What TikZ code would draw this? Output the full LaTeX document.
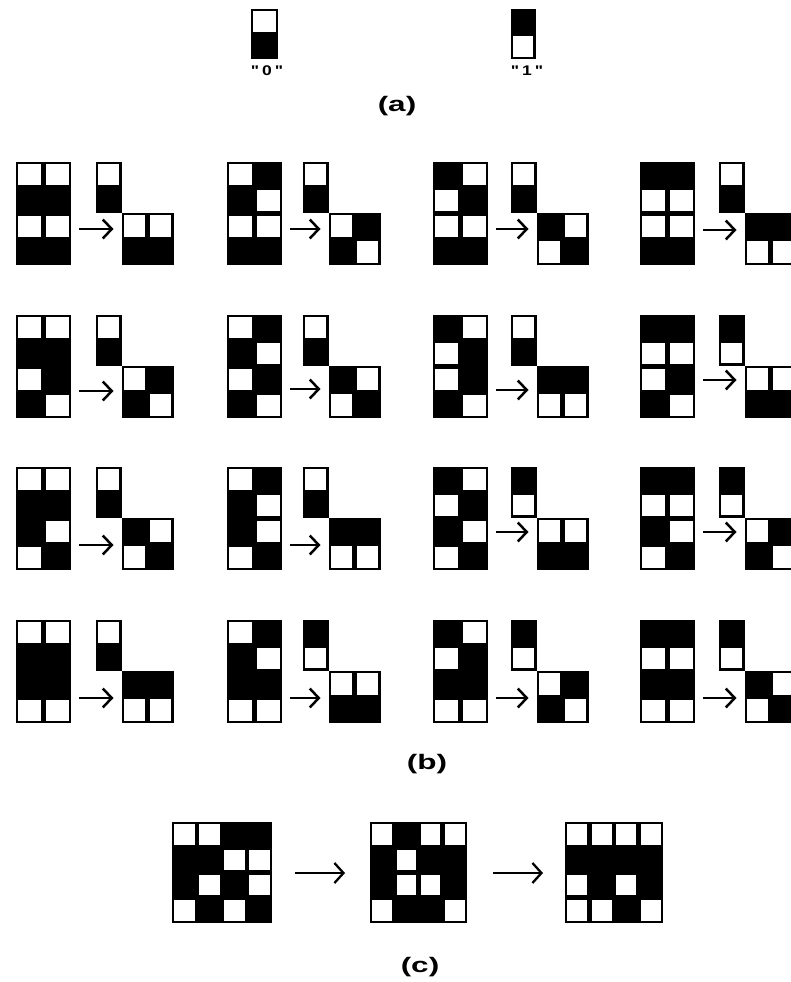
\documentclass[tikz,border=0pt]{standalone}
\usepackage{fontspec}
\usepackage{graphicx}
\setmainfont{Liberation Sans}
\newfontfamily\qfont{Liberation Sans}
\usetikzlibrary{arrows.meta}
\tikzset{
  arr/.style={line width=2.5bp, -{Straight Barb[length=9bp,width=19bp]}},
  arrc/.style={line width=2.3bp, -{Straight Barb[length=9bp,width=20bp]}},
  lab/.style={font=\fontsize{21bp}{21bp}\selectfont\bfseries, inner sep=0},
  qlab/.style={font=\fontsize{14bp}{14bp}\selectfont\qfont\bfseries, inner sep=0},
}
% block of cells: x y cellw cellh ncols nrows {white cells col/row}
\newcommand{\blk}[7]{%
  \fill[black] (#1,#2) rectangle ++({#5*#3},{#6*#4});
  \foreach \cc/\rr in {#7} {
    \fill[white] ({#1+\cc*#3+2.4},{#2+\rr*#4+2.4}) rectangle ({#1+(\cc+1)*#3-2.4},{#2+(\rr+1)*#4-2.4});
  }%
}
% rule: name bx by dx arrowy inputwhites dominowhite pairwhites
\newcommand{\rul}[8]{%
  \blk{#2}{#3}{27.5}{25.75}{2}{4}{#6}
  \blk{#4}{#3}{25.5}{25.25}{1}{2}{#7}
  \blk{#4+25.5}{#3+51}{26}{26}{2}{2}{#8}
  \coordinate (#1-s) at ({#2+63},#5);
  \coordinate (#1-e) at ({#4+25.5-8},#5);
  \draw[arr] (#1-s) -- (#1-e);
}
\begin{document}
\begin{tikzpicture}[x=1bp,y=-1bp]
\path[use as bounding box] (0,0) rectangle (791,982);
\clip (0,0) rectangle (791,982);
\fill[white] (0,0) rectangle (791,982);
% (a)
\blk{251}{9}{27}{25}{1}{2}{0/0}
\blk{511}{9}{24.5}{25}{1}{2}{0/1}
\node[qlab] (q0) at (267,71) {\scalebox{1.25}[1]{"\,0\,"}};
\node[qlab] (q1) at (527,71) {\scalebox{1.25}[1]{"\,1\,"}};
\node[lab] (la) at (397,106) {\scalebox{1.5}[1]{(a)}};
% (b) row 1
\rul{r11}{16}{162}{96}{229}{0/0,1/0,0/2,1/2}{0/0}{0/0,1/0}
\rul{r12}{227}{162}{303}{229}{0/0,1/1,0/2,1/2}{0/0}{0/0,1/1}
\rul{r13}{433}{162}{511}{229}{1/0,0/1,0/2,1/2}{0/0}{1/0,0/1}
\rul{r14}{640}{162}{719}{230}{0/1,1/1,0/2,1/2}{0/0}{0/1,1/1}
% row 2
\rul{r21}{16}{315}{96}{391}{0/0,1/0,0/2,1/3}{0/0}{0/0,1/1}
\rul{r22}{227}{315}{303}{389}{0/0,1/1,0/2,1/3}{0/0}{1/0,0/1}
\rul{r23}{433}{315}{511}{390}{1/0,0/1,0/2,1/3}{0/0}{0/1,1/1}
\rul{r24}{640}{315}{719}{380}{0/1,1/1,0/2,1/3}{0/1}{0/0,1/0}
% row 3
\rul{r31}{16}{467}{96}{545}{0/0,1/0,1/2,0/3}{0/0}{1/0,0/1}
\rul{r32}{227}{467}{303}{545}{0/0,1/1,1/2,0/3}{0/0}{0/1,1/1}
\rul{r33}{433}{467}{511}{532}{1/0,0/1,1/2,0/3}{0/1}{0/0,1/0}
\rul{r34}{640}{467}{719}{532}{0/1,1/1,1/2,0/3}{0/1}{0/0,1/1}
% row 4
\rul{r41}{16}{620}{96}{698}{0/0,1/0,0/3,1/3}{0/0}{0/1,1/1}
\rul{r42}{227}{620}{303}{698}{0/0,1/1,0/3,1/3}{0/1}{0/0,1/0}
\rul{r43}{433}{620}{511}{698}{1/0,0/1,0/3,1/3}{0/1}{0/0,1/1}
\rul{r44}{640}{620}{719}{698}{0/1,1/1,0/3,1/3}{0/1}{1/0,0/1}
\node[lab] (lb) at (427,764) {\scalebox{1.5}[1]{(b)}};
% (c)
\blk{172}{822}{25}{25.25}{4}{4}{0/0,1/0,2/1,3/1,1/2,3/2,0/3,2/3}
\blk{370}{822}{24.25}{25.25}{4}{4}{0/0,2/0,3/0,1/1,1/2,2/2,0/3,3/3}
\blk{565}{822}{24.5}{25.25}{4}{4}{0/0,1/0,2/0,3/0,0/2,2/2,0/3,1/3,3/3}
\coordinate (c1s) at (295,873);
\coordinate (c1e) at (345,873);
\coordinate (c2s) at (493,873);
\coordinate (c2e) at (543,873);
\draw[arrc] (c1s) -- (c1e);
\draw[arrc] (c2s) -- (c2e);
\node[lab] (lc) at (420,967) {\scalebox{1.5}[1]{(c)}};
\end{tikzpicture}
\end{document}
